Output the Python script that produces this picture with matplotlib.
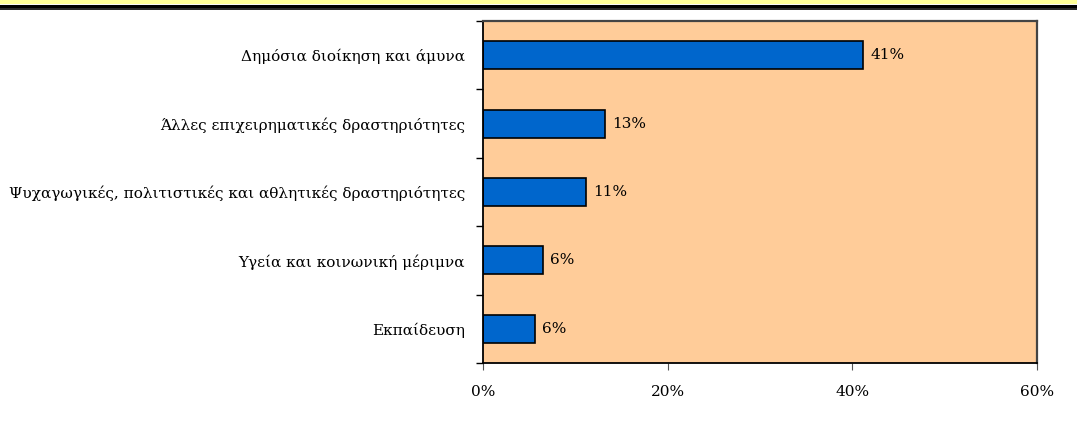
import matplotlib
matplotlib.use("Agg")
import matplotlib.pyplot as plt
from matplotlib.ticker import FixedLocator, PercentFormatter

categories = [
    "Δημόσια διοίκηση και άμυνα",
    "Άλλες επιχειρηματικές δραστηριότητες",
    "Ψυχαγωγικές, πολιτιστικές και αθλητικές δραστηριότητες",
    "Υγεία και κοινωνική μέριμνα",
    "Εκπαίδευση",
]
values = [41.2, 13.2, 11.2, 6.5, 5.6]
value_labels = ["41%", "13%", "11%", "6%", "6%"]
xticks = [0, 20, 40, 60]

plt.rcParams['font.family'] = ['DejaVu Serif', 'Liberation Serif']
fs = 11

fig = plt.figure(figsize=(10.77, 4.21), dpi=100)

# header strip: yellow band + double rule
fig.patches.append(plt.Rectangle((0, 1 - 4 / 421), 1, 4 / 421, transform=fig.transFigure,
                                 facecolor="#FFFF99", edgecolor="none"))
fig.add_artist(plt.Line2D([0, 1], [1 - 5.5 / 421] * 2, transform=fig.transFigure, color="black", lw=2.2))
fig.add_artist(plt.Line2D([0, 1], [1 - 9 / 421] * 2, transform=fig.transFigure, color="black", lw=1.2))

ax = fig.add_axes([483 / 1077, 1 - 363 / 421, 554 / 1077, 342 / 421])
ax.set_facecolor("#FFCC99")

y = list(range(len(categories)))
ax.barh(y, values, height=0.41, color="#0066CC", edgecolor="black", linewidth=1.2)
for yi, v, lab in zip(y, values, value_labels):
    ax.text(v + 0.75, yi, lab, va="center", ha="left", fontsize=fs)

ax.set_xlim(0, 60)
ax.set_ylim(4.5, -0.5)
ax.set_xticks(xticks)
ax.xaxis.set_major_formatter(PercentFormatter(decimals=0))
ax.tick_params(axis="x", length=5, pad=11, labelsize=fs, color="#555555")

ax.set_yticks(y)
ax.set_yticklabels(categories)
ax.tick_params(axis="y", which="major", length=0, pad=13, labelsize=fs)
ax.yaxis.set_minor_locator(FixedLocator([-0.5, 0.5, 1.5, 2.5, 3.5, 4.5]))
ax.tick_params(axis="y", which="minor", length=5, width=1, color="black")

for s in ["left", "bottom"]:
    ax.spines[s].set_color("black")
    ax.spines[s].set_linewidth(1.3)
for s in ["top", "right"]:
    ax.spines[s].set_color("#444444")
    ax.spines[s].set_linewidth(1.6)

fig.savefig("out.png", dpi=100)
